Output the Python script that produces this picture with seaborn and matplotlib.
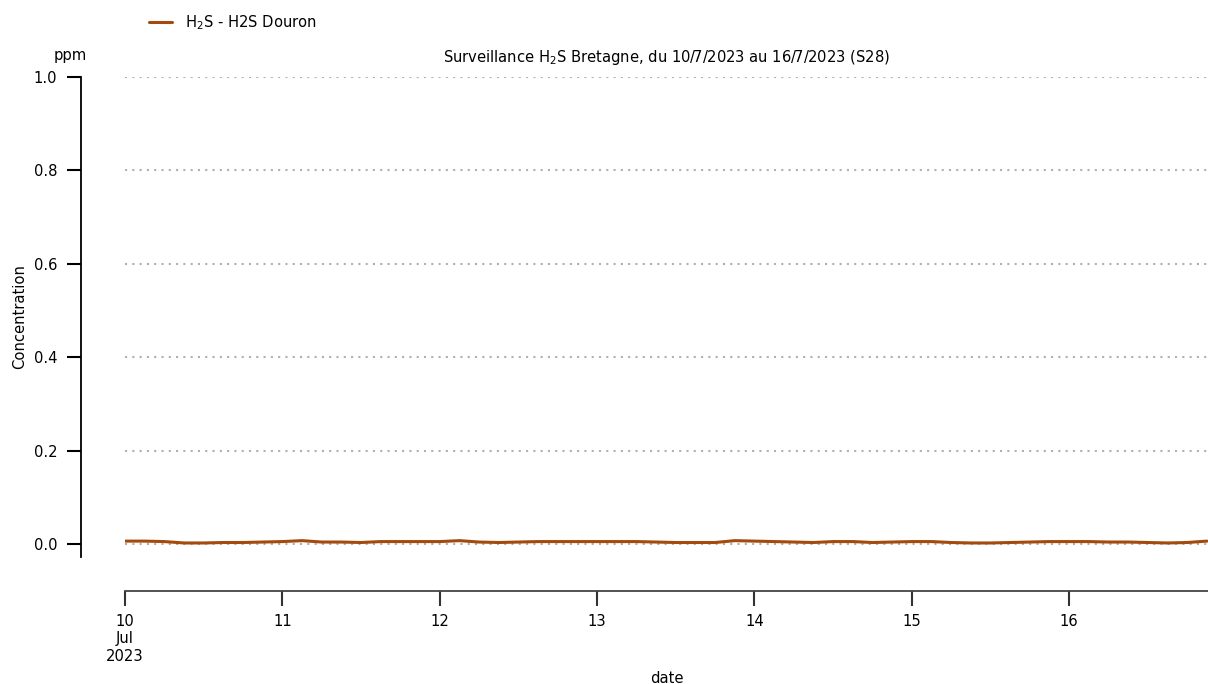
import numpy as np
import pandas as pd
import seaborn as sns
import matplotlib
matplotlib.use("Agg")
from matplotlib import pyplot as plt

# 3-hourly H2S readings (ppm), station Douron, 10/7/2023 00:00 -> 16/7/2023 21:00
h2s_douron = [
    0.006, 0.006, 0.005, 0.002, 0.002, 0.003, 0.003, 0.004,   # 10 Jul
    0.005, 0.007, 0.004, 0.004, 0.003, 0.005, 0.005, 0.005,   # 11 Jul
    0.005, 0.007, 0.004, 0.003, 0.004, 0.005, 0.005, 0.005,   # 12 Jul
    0.005, 0.005, 0.005, 0.004, 0.003, 0.003, 0.003, 0.007,   # 13 Jul
    0.006, 0.005, 0.004, 0.003, 0.005, 0.005, 0.003, 0.004,   # 14 Jul
    0.005, 0.005, 0.003, 0.002, 0.002, 0.003, 0.004, 0.005,   # 15 Jul
    0.005, 0.005, 0.004, 0.004, 0.003, 0.002, 0.003, 0.006,   # 16 Jul
]
dates = pd.date_range("2023-07-10 00:00", periods=len(h2s_douron), freq="3h")

day_ticks = pd.date_range("2023-07-10", "2023-07-16", freq="D")
day_labels = ["10\nJul\n2023", "11", "12", "13", "14", "15", "16"]
y_ticks = [0.0, 0.2, 0.4, 0.6, 0.8, 1.0]

df = pd.DataFrame({"date": dates, "Concentration": h2s_douron})

sns.set_style("white")
plt.rcParams["font.family"] = ["DejaVu Sans"]
plt.rcParams["text.color"] = "black"
plt.rcParams["axes.labelcolor"] = "black"
plt.rcParams["xtick.color"] = "black"
plt.rcParams["ytick.color"] = "black"
fs = 10.6

fig = plt.figure(figsize=(12.08, 6.84), dpi=100)
ax = fig.add_axes([0.1035, 0.1857, 0.8965, 0.7017])

sns.lineplot(data=df, x="date", y="Concentration", ax=ax, color="#a34a0c",
             linewidth=2.2, label="H$_2$S - H2S Douron")

ax.set_xlim(dates[0], dates[-1] + pd.Timedelta("10min"))
ax.set_ylim(-0.028, 1.0)
ax.set_yticks(y_ticks)
ax.set_yticklabels([f"{v:.1f}" for v in y_ticks])
ax.set_xticks(day_ticks)
ax.set_xticklabels(day_labels, linespacing=1.1)
ax.yaxis.grid(True, linestyle=(0, (1, 2.5)), color="#b0b0b0", linewidth=1.5)
ax.xaxis.grid(False)

sns.despine(ax=ax)
ax.spines["left"].set_position(("outward", 31.7))
ax.spines["bottom"].set_position(("outward", 24.5))
ax.spines["left"].set_color("black")
ax.spines["bottom"].set_color("#444444")
ax.spines["left"].set_linewidth(1.3)
ax.spines["bottom"].set_linewidth(1.3)
ax.tick_params(axis="y", left=True, length=10, width=1.5, color="black",
               labelsize=fs, pad=7)
ax.tick_params(axis="x", bottom=True, length=10.5, width=1.5, color="#333333",
               labelsize=fs, pad=6)

ax.set_xlabel("date", fontsize=fs, labelpad=5)
ax.set_ylabel("Concentration", fontsize=fs, labelpad=5)
ax.set_title("Surveillance H$_2$S Bretagne, du 10/7/2023 au 16/7/2023 (S28)",
             fontsize=fs, pad=11)
fig.text(0.058, 0.912, "ppm", fontsize=fs, ha="center")

ax.legend_.remove()
handles, labels = ax.get_legend_handles_labels()
fig.legend(handles, labels, loc="upper left", bbox_to_anchor=(0.112, 1.0),
           frameon=False, fontsize=fs, handlelength=1.6, handletextpad=0.9)

fig.savefig("out.png", dpi=100)
